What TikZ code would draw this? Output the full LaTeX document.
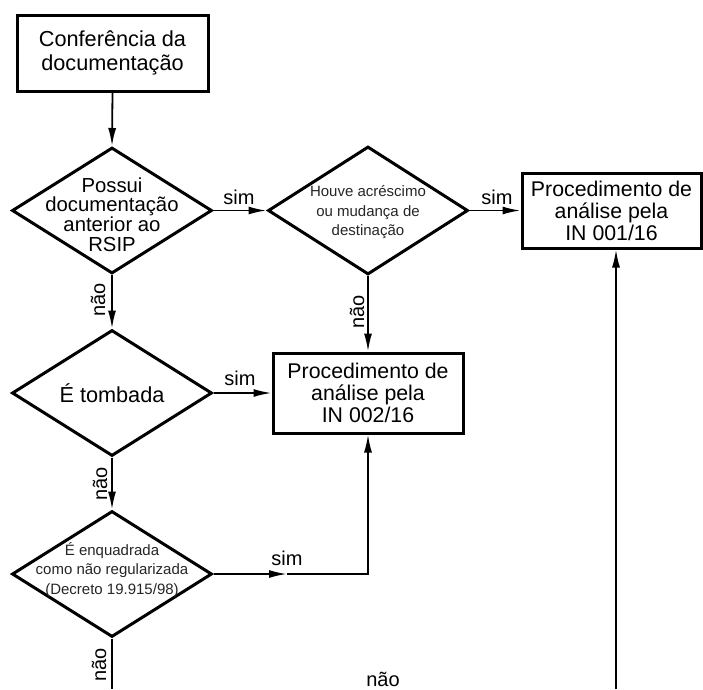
\documentclass[tikz,border=0pt]{standalone}
\usepackage{fontspec}
\setmainfont{Liberation Sans}
\usetikzlibrary{shapes.geometric,arrows.meta}
\begin{document}
\begin{tikzpicture}[x=1pt,y=-1pt,
  box/.style={draw,line width=3pt,inner sep=0pt,align=center,font=\fontsize{21.3}{22}\selectfont},
  dia/.style={draw,diamond,line width=3pt,inner sep=0pt,minimum width=200pt,minimum height=126pt},
  conn/.style={line width=1.8pt,-{Latex[length=18pt,width=8pt]}},
  plainline/.style={line width=1.8pt},
  lbl/.style={font=\fontsize{20}{22}\selectfont,inner sep=0pt},
  small/.style={font=\fontsize{15}{19.5}\selectfont,align=center,text=black!85},
  big/.style={font=\fontsize{21.7}{24}\selectfont,align=center}
]
\useasboundingbox (0,0) rectangle (703,689);

\node[box,big,minimum width=191pt,minimum height=76pt] (start) at (112.5,53) {Conferência da\\documentação};

\node[dia,label={[font=\fontsize{20.3}{19.6}\selectfont,align=center,yshift=-4pt]center:Possui\\documentação\\anterior ao\\RSIP}] (d1) at (112,210.5) {};
\node[dia,minimum height=128pt,label={[small,yshift=-2pt]center:Houve acréscimo\\ou mudança de\\destinação}] (d2) at (368,210.5) {};
\node[dia,label={[font=\fontsize{21.7}{24}\selectfont]center:É tombada}] (d3) at (112,393) {};
\node[dia,label={[small,yshift=4pt]center:É enquadrada\\como não regularizada\\(Decreto 19.915/98)}] (d4) at (112,574) {};

\node[box,minimum width=179pt,minimum height=75pt] (b1) at (611.5,210.5) {Procedimento de\\análise pela\\IN 001/16};
\node[box,minimum width=190pt,minimum height=80pt] (b2) at (368,393) {Procedimento de\\análise pela\\IN 002/16};

\draw[conn] (start.south) -- (d1.north);
\draw[conn] (d1.east) -- (d2.west);
\draw[conn] (d2.east) -- (b1.west);
\draw[conn] (d2.south) -- (b2.north);
\draw[conn] (d1.south) -- (d3.north);
\draw[conn] (d3.east) -- (b2.west);
\draw[conn] (d3.south) -- (d4.north);

\coordinate (m4) at (287,574);
\coordinate (c4) at (368,574);
\draw[conn] (d4.east) -- (m4);
\draw[conn] (m4) -- (c4) -- (b2.south);

\coordinate (e4) at (112,689);
\draw[plainline] (d4.south) -- (e4);

\coordinate (e1) at (616,689);
\draw[conn] (e1) -- (e1 |- b1.south);

\node[lbl] (s1) at (239,197) {sim};
\node[lbl] (s2) at (497,197) {sim};
\node[lbl] (s3) at (240,378) {sim};
\node[lbl] (s4) at (287,558) {sim};

\node[lbl,rotate=90] (n1) at (98,300) {não};
\node[lbl,rotate=90] (n2) at (357,312) {não};
\node[lbl,rotate=90] (n3) at (100,484) {não};
\node[lbl,rotate=90] (n4) at (99,665) {não};
\node[lbl] (n5) at (383,679) {não};
\end{tikzpicture}
\end{document}
